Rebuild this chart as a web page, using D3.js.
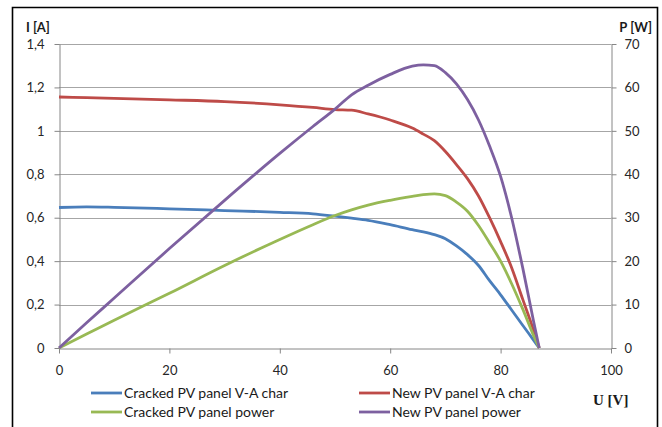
<!DOCTYPE html>
<html>
<head>
<meta charset="utf-8">
<script src="https://cdn.jsdelivr.net/npm/d3@7"></script>
<style>
  html, body { margin: 0; padding: 0; background: #fff; }
  svg { display: block; }
  .tick text { font-family: Lato, "Open Sans", sans-serif; font-size: 13px; fill: #262626; }
  .lbl { font-family: Lato, "Open Sans", sans-serif; fill: #1a1a1a; }
</style>
</head>
<body>
<svg id="chart" width="662" height="427"></svg>
<script>
// ---------- data ----------
var voltage = [0, 5, 10, 20, 30, 40, 46, 50, 53, 56, 60, 64, 66, 68, 70, 72, 74, 76, 78, 80, 82, 84, 86, 87];
var crackedCurrent = [0.647, 0.65, 0.648, 0.641, 0.633, 0.625, 0.618, 0.607, 0.598, 0.588, 0.568, 0.545, 0.535, 0.522, 0.503, 0.47, 0.43, 0.38, 0.31, 0.245, 0.175, 0.105, 0.035, 0];
var newCurrent = [1.156, 1.153, 1.15, 1.143, 1.135, 1.12, 1.108, 1.098, 1.095, 1.078, 1.05, 1.013, 0.985, 0.955, 0.905, 0.845, 0.78, 0.70, 0.60, 0.49, 0.37, 0.225, 0.08, 0];
var crackedPower = [0, 3.2, 6.4, 12.6, 19.0, 25.0, 28.4, 30.5, 31.8, 32.9, 34.0, 34.9, 35.3, 35.5, 35.1, 33.6, 31.5, 28.2, 24.2, 20.0, 14.8, 9.0, 2.8, 0];
var newPower = [0, 5.8, 11.5, 22.9, 34.0, 44.8, 51.0, 55.0, 58.3, 60.5, 63.0, 64.9, 65.2, 65.0, 63.4, 60.8, 57.2, 52.5, 46.5, 39.5, 30.0, 18.5, 6.0, 0];

var xTicks = [0, 20, 40, 60, 80, 100];
var iTicks = [0, 0.2, 0.4, 0.6, 0.8, 1.0, 1.2, 1.4];
var iTickLabels = ["0", "0,2", "0,4", "0,6", "0,8", "1", "1,2", "1,4"];
var pTicks = [0, 10, 20, 30, 40, 50, 60, 70];

var seriesNames = ["Cracked PV panel V-A char", "New PV panel V-A char", "Cracked PV panel power", "New PV panel power"];
var seriesColors = ["#4a7ebb", "#be4b48", "#98b954", "#7d60a0"];

// ---------- scales ----------
var svg = d3.select("#chart");
var x = d3.scaleLinear().domain([0, 100]).range([59, 611]);
var yI = d3.scaleLinear().domain([0, 1.4]).range([348, 44]);
var yP = d3.scaleLinear().domain([0, 70]).range([348, 44]);

// outer frame (open at the bottom)
svg.append("path").attr("d", "M12.5,430 V7.5 H657.5 V430")
  .attr("fill", "none").attr("stroke", "#000").attr("stroke-width", 1.6);

// gridlines
svg.append("g").selectAll("line").data(iTicks.slice(1)).enter().append("line")
  .attr("x1", x(0)).attr("x2", x(100))
  .attr("y1", function (d) { return Math.round(yI(d)) + 0.5; })
  .attr("y2", function (d) { return Math.round(yI(d)) + 0.5; })
  .attr("stroke", "#a6a6a6").attr("stroke-width", 1);

// axes
function styleAxis(g) {
  g.select(".domain").attr("stroke", "#868686");
  g.selectAll(".tick line").attr("stroke", "#868686");
}
svg.append("g").attr("transform", "translate(0,348.5)")
  .call(d3.axisBottom(x).tickValues(xTicks).tickSize(5).tickSizeOuter(0).tickPadding(12))
  .call(styleAxis);
svg.append("g").attr("transform", "translate(59.5,0)")
  .call(d3.axisLeft(yI).tickValues(iTicks).tickSize(5).tickSizeOuter(0).tickPadding(10)
    .tickFormat(function (d, i) { return iTickLabels[i]; }))
  .call(styleAxis);
svg.append("g").attr("transform", "translate(611.5,0)")
  .call(d3.axisRight(yP).tickValues(pTicks).tickSize(5).tickSizeOuter(0).tickPadding(8))
  .call(styleAxis);

// series
var series = [
  { vals: crackedCurrent, y: yI },
  { vals: newCurrent, y: yI },
  { vals: crackedPower, y: yP },
  { vals: newPower, y: yP }
];
series.forEach(function (s, k) {
  var line = d3.line()
    .x(function (d, i) { return x(voltage[i]); })
    .y(function (d) { return s.y(d); })
    .curve(d3.curveMonotoneX);
  svg.append("path").datum(s.vals).attr("d", line)
    .attr("fill", "none").attr("stroke", seriesColors[k]).attr("stroke-width", 2.8)
    .attr("stroke-linejoin", "round");
});

// axis titles
svg.append("text").attr("class", "lbl").attr("x", 26).attr("y", 32)
  .attr("font-size", 13).attr("font-weight", "bold").text("I [A]");
svg.append("text").attr("class", "lbl").attr("x", 652).attr("y", 32).attr("text-anchor", "end")
  .attr("font-size", 13).attr("font-weight", "bold").text("P [W]");
svg.append("text").attr("x", 593).attr("y", 405)
  .attr("font-family", "'Liberation Serif', 'DejaVu Serif', serif").attr("font-size", 15)
  .attr("font-weight", "bold").attr("fill", "#1a1a1a").text("U [V]");

// legend
var legPos = [[91, 393], [359, 393], [91, 412], [359, 412]];
seriesNames.forEach(function (name, k) {
  var p = legPos[k];
  svg.append("line").attr("x1", p[0]).attr("x2", p[0] + 31).attr("y1", p[1]).attr("y2", p[1])
    .attr("stroke", seriesColors[k]).attr("stroke-width", 2.8);
  svg.append("text").attr("class", "lbl").attr("x", p[0] + 33).attr("y", p[1] + 5)
    .attr("font-size", 14).text(name);
});
</script>
</body>
</html>
